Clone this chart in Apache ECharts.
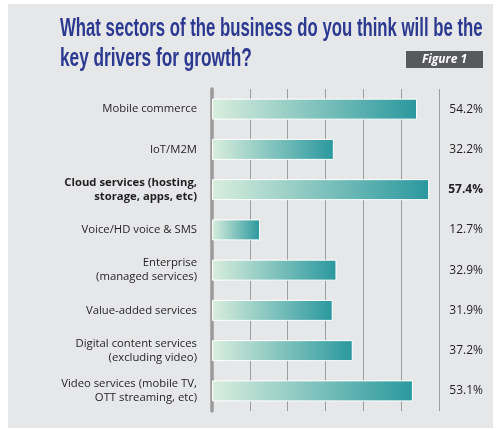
<!DOCTYPE html>
<html><head><meta charset="utf-8">
<script src="https://cdn.jsdelivr.net/npm/echarts@6/dist/echarts.min.js"></script>
<style>html,body{margin:0;padding:0;background:#fff}#c{width:500px;height:430px}</style>
</head><body><div id="c"></div>
<script>
const titleLines = ['What sectors of the business do you think will be the', 'key drivers for growth?'];
const figureLabel = 'Figure 1';
const categories = ['Mobile commerce', 'IoT/M2M', 'Cloud services (hosting,\nstorage, apps, etc)', 'Voice/HD voice & SMS', 'Enterprise\n(managed services)', 'Value-added services', 'Digital content services\n(excluding video)', 'Video services (mobile TV,\nOTT streaming, etc)'];
const values = [54.2, 32.2, 57.4, 12.7, 32.9, 31.9, 37.2, 53.1];
const highlightIndex = 2;
const xTicks = [0, 10, 20, 30, 40, 50, 60];

const chart = echarts.init(document.getElementById('c'), null, {renderer: 'canvas'});
const labelFont = '"Open Sans", "Noto Sans", sans-serif';
const titleFont = 'bold 25px "Liberation Sans Narrow", "Liberation Sans", sans-serif';
chart.setOption({
  animation: false,
  backgroundColor: '#ffffff',
  graphic: [
    {type: 'rect', shape: {x: 8, y: 4, width: 485, height: 424}, style: {fill: '#e6e7e8'}, z: -10, silent: true},
    {type: 'text', x: 60, y: 17, scaleX: 0.67, style: {text: titleLines[0], font: titleFont, fill: '#2b3990'}},
    {type: 'text', x: 60, y: 47, scaleX: 0.69, style: {text: titleLines[1], font: titleFont, fill: '#2b3990'}},
    {type: 'rect', shape: {x: 406, y: 51, width: 77, height: 17}, style: {fill: '#58595b'}},
    {type: 'text', x: 444.5, y: 59.5, style: {text: figureLabel, font: 'italic bold 12px "Open Sans", sans-serif', fill: '#ffffff', align: 'center', verticalAlign: 'middle'}}
  ],
  grid: {left: 212, right: 61, top: 89, bottom: 19, containLabel: false},
  xAxis: {
    type: 'value', min: xTicks[0], max: xTicks[xTicks.length - 1], interval: 10,
    axisLabel: {show: false}, axisTick: {show: false}, axisLine: {show: false},
    splitLine: {show: true, lineStyle: {color: '#9d9d9d', width: 1}}
  },
  yAxis: [{
    type: 'category', data: categories, inverse: true,
    axisTick: {show: false},
    axisLine: {show: true, lineStyle: {color: '#9a9a9a', width: 3.5}},
    axisLabel: {
      margin: 15, align: 'right', fontFamily: labelFont, fontSize: 11.3, color: '#231f20', lineHeight: 14,
      formatter: (v, i) => i === highlightIndex ? v.split('\n').map(s => '{b|' + s + '}').join('\n') : v,
      rich: {b: {fontWeight: 'bold', fontFamily: labelFont, fontSize: 11.3, color: '#231f20', lineHeight: 14}}
    }
  }, {
    type: 'category', data: categories, inverse: true, position: 'right',
    axisTick: {show: false}, axisLine: {show: false},
    axisLabel: {
      margin: 44, align: 'right', fontFamily: labelFont, fontSize: 12, color: '#231f20',
      formatter: (v, i) => i === highlightIndex ? '{b|' + values[i].toFixed(1) + '%}' : values[i].toFixed(1) + '%',
      rich: {b: {fontWeight: 'bold', fontFamily: labelFont, fontSize: 12, color: '#231f20'}}
    }
  }],
  series: [{
    type: 'bar', data: values, barWidth: 21,
    itemStyle: {
      borderColor: '#ffffff', borderWidth: 1,
      color: new echarts.graphic.LinearGradient(0, 0, 1, 0, [
        {offset: 0, color: '#d9eedd'},
        {offset: 1, color: '#2a989e'}
      ])
    }
  }]
});
</script></body></html>
